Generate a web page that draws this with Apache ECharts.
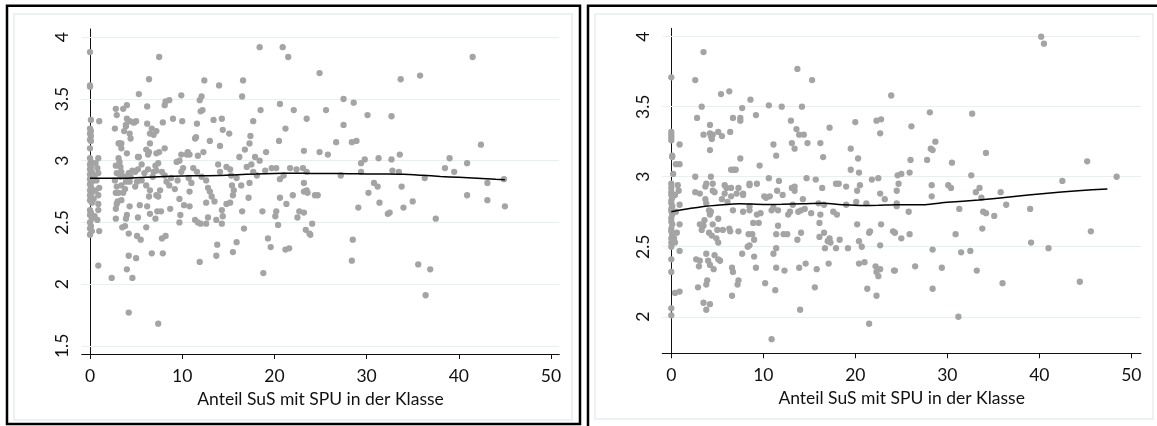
<!DOCTYPE html>
<html>
<head>
<meta charset="utf-8">
<script src="https://cdn.jsdelivr.net/npm/echarts@6/dist/echarts.min.js"></script>
<style>
  html, body { margin: 0; padding: 0; background: #fff; }
  #chart { width: 1157px; height: 426px; }
</style>
</head>
<body>
<div id="chart"></div>
<script>
var xTicks = [0, 10, 20, 30, 40, 50];
var leftYTicks = [1.5, 2, 2.5, 3, 3.5, 4];
var rightYTicks = [2, 2.5, 3, 3.5, 4];
var xTitle = 'Anteil SuS mit SPU in der Klasse';

// linkes Panel: [Anteil SuS mit SPU, Wert]
var leftPoints = [
  [0,3.88],[0,3.61],[0,3.60],[0.1,3.33],[0,3.26],[0.1,3.24],[0,3.22],[0.1,3.2],[0,3.17],[0.1,3.16],
  [0,3.1],[0,3.02],[0.1,2.99],[0,2.97],[0.1,2.95],[0,2.93],[0.2,2.91],[0,2.89],[0.1,2.87],[0,2.85],
  [0.2,2.83],[0,2.81],[0.1,2.79],[0,2.76],[0.2,2.74],[0,2.72],[0.1,2.7],[0,2.68],[0.2,2.66],[0,2.6],
  [0.1,2.58],[0,2.56],[0.2,2.53],[0,2.5],[0.1,2.47],[0,2.45],[0.2,2.43],[0,2.4],
  [1.0,3.32],[0.9,3.02],[0.6,2.98],[0.8,2.94],[0.9,2.9],[0.5,2.88],[0.7,2.84],[1.0,2.78],[0.6,2.76],
  [0.9,2.72],[0.4,2.69],[0.9,2.65],[0.9,2.6],[0.5,2.55],[0.8,2.52],[1.0,2.43],[0.9,2.15],
  [2.8,3.42],[2.9,3.37],[3.6,3.42],[4.0,3.45],[2.7,3.26],[3.9,3.29],[4.3,3.32],[4.7,3.31],[3.2,3.14],
  [3.4,3.1],[3.1,3.14],[3.4,3.14],[4.0,3.06],[4.3,3.22],[4.4,3.18],[3.7,3.24],[3.9,3.28],[4.0,3.34],
  [4.8,3.31],[5.0,3.32],[5.2,3.03],[5.3,3.03],
  [3.1,3.02],[3.2,2.99],[3.3,2.95],[3.4,2.91],[3.3,2.87],[3.8,2.87],[3.9,2.83],[3.4,2.8],[3.8,2.77],
  [3.6,2.74],[4.2,2.9],[4.4,2.87],[4.6,2.92],[4.9,2.91],[5.2,2.93],[4.3,2.83],[4.9,2.79],[5.1,2.83],
  [5.6,2.84],[6.1,2.8],[6.5,2.76],[2.8,2.96],[2.9,2.9],[2.7,2.84],[2.9,2.79],[2.8,2.74],
  [2.35,2.05],[2.9,2.65],[2.8,2.53],[3.1,2.74],[3.4,2.68],[3.5,2.46],[3.8,2.47],[4.0,2.56],[3.9,2.53],
  [4.3,2.63],[4.2,2.41],[4.2,2.23],[4.0,2.12],[4.6,2.05],[5.0,2.21],[4.2,1.77],[5.2,2.54],[5.4,2.64],
  [5.1,2.39],[5.5,2.36],[2.8,2.61],[3.0,2.67],
  [5.3,3.54],[6.2,3.44],[6.4,3.66],[6.2,3.30],[6.5,3.22],[7.2,3.24],[6.7,3.26],[7.5,3.84],[8.1,3.45],
  [8.6,3.49],[7.9,3.31],[9.0,3.34],[10.0,3.32],[9.9,3.53],[8.2,3.48],[6.9,3.21],[6.5,3.14],
  [6.1,3.09],[6.4,3.07],[6.3,3.05],[7.2,3.06],[7.5,3.07],[8.1,3.1],
  [6.9,2.91],[7.1,2.96],[7.4,2.98],[7.2,2.92],[7.8,2.91],[8.1,2.88],[8.3,2.83],[8.6,2.8],[8.8,2.86],
  [9.4,2.99],[9.7,3.0],[9.9,2.91],[10.1,2.94],[6.8,2.87],[5.9,2.9],[5.6,2.97],[6.3,2.93],[7.6,2.76],
  [9.2,2.77],[9.5,2.84],
  [6.1,2.46],[6.2,2.63],[6.5,2.57],[6.7,2.25],[7.1,2.53],[7.3,2.59],[7.7,2.59],[7.8,2.37],[8.2,2.39],
  [7.9,2.25],[7.4,1.68],[6.4,2.71],[7.2,2.72],[7.4,2.71],[8.7,2.61],[9.7,2.5],[9.8,2.56],[9.7,2.69],
  [10.5,3.05],[10.6,3.07],[10.8,3.05],[9.9,3.05],[11.2,2.94],[11.6,2.91],[11.7,3.04],[12.1,2.87],
  [12.6,2.84],[12.8,2.78],[13,2.75],[13.9,2.97],[14.1,2.91],[14.8,2.95],[10.7,2.86],[11.0,2.82],
  [12.1,3.52],[12.4,3.65],[12.0,3.40],[11.6,3.30],[11.4,3.18],[13.0,3.16],[13.4,3.33],[14.3,3.34],
  [14.4,3.25],[15.1,3.22],[14.1,3.12],[14.0,3.61],[11.5,3.19],[12.3,3.07],[12.2,3.41],[11.9,3.49],
  [10.2,2.64],[10.8,2.63],[10.8,2.75],[11.4,2.52],[11.7,2.5],[12.0,2.49],[11.9,2.18],[12.6,2.66],
  [12.6,2.49],[12.8,2.54],[13.2,2.71],[13.5,2.67],[13.7,2.52],[14.3,2.49],[14.3,2.6],[14.4,2.55],
  [14.8,2.65],[13.7,2.23],[13.8,2.32],
  [15.2,2.93],[15.3,2.88],[15.4,2.8],[15.9,2.86],[16.4,2.8],[17.0,2.95],[17.5,2.97],[17.7,2.91],
  [18.4,3.0],[19,2.92],[19.7,2.94],[17.3,2.82],[18.1,2.88],
  [16.6,3.65],[16.5,3.52],[17.7,3.32],[17.4,3.2],[17.3,3.14],[16.8,3.09],[18.5,3.41],[18.4,3.92],
  [19.1,3.07],[16.2,3.03],[17.9,3.03],
  [15.2,2.66],[15.5,2.72],[15.6,2.76],[15.5,2.26],[15.9,2.34],[16.5,2.59],[16.7,2.45],[17.2,2.7],
  [18.7,2.59],[18.8,2.09],[19.3,2.37],[19.6,2.3],
  [20.6,2.85],[20.2,2.94],[21.7,2.94],[22.4,2.93],[23.1,2.94],[23.5,2.91],[23.2,2.82],[23.5,2.76],
  [24.9,3.07],[21.0,2.88],
  [20.9,3.92],[21.5,3.84],[20.6,3.46],[21.2,3.26],[22.1,3.41],[23.5,3.34],[20.5,3.16],[23.2,3.08],
  [24.9,3.71],[25.6,3.41],[25.8,3.05],
  [20.2,2.59],[20.1,2.55],[20.4,2.48],[20.6,2.7],[21.3,2.65],[21.2,2.28],[21.6,2.29],[22.0,2.72],
  [22.5,2.54],[22.7,2.59],[23.2,2.58],[23.4,2.44],[23.8,2.41],[24.1,2.49],[23.2,2.75],[23.6,2.74],
  [24.4,2.72],[24.7,2.72],[23.9,2.4],
  [27.5,3.50],[28.6,3.47],[30.1,3.37],[32.7,3.36],[27.5,3.29],[26.7,3.15],[28.4,3.15],[28.9,3.16],
  [33.7,3.66],[35.8,3.69],[41.5,3.84],[42.4,3.13],[29.4,2.98],[29.8,3.01],[29.4,2.91],[27.2,2.88],
  [31.3,3.02],[32.7,3.01],[33.6,3.05],[32.8,2.92],[33.5,2.91],[36.3,2.86],[38.5,2.94],[39.0,3.02],
  [39.5,2.91],[40.9,2.98],[43.1,2.82],[44.9,2.85],[40.9,2.72],[43.1,2.68],[45.0,2.63],[30.8,2.82],
  [31.2,2.79],[33.8,2.79],[30.2,2.74],[31.4,2.66],[35.0,2.67],[34.0,2.62],[29.1,2.62],[32.3,2.57],
  [32.5,2.58],[37.5,2.53],[28.5,2.36],[28.4,2.19],[35.6,2.16],[36.9,2.12],[36.4,1.91]
];

var leftLowessX = [0, 2, 4, 6, 8, 10, 12, 14, 16, 18, 20, 22, 24, 26, 28, 30, 32, 34, 36, 38, 40, 42, 44, 45];
var leftLowessY = [2.857, 2.857, 2.858, 2.865, 2.872, 2.877, 2.878, 2.88, 2.887, 2.892, 2.897, 2.898,
                   2.897, 2.897, 2.895, 2.893, 2.892, 2.89, 2.882, 2.873, 2.865, 2.857, 2.849, 2.846];

// rechtes Panel
var rightPoints = [
  [0,3.71],[0,3.32],[0,3.30],[0,3.28],[0,3.26],[0.1,3.15],[0.1,3.14],[0.2,3.02],[0,2.95],[0,2.92],
  [0,2.89],[0,2.87],[0.1,2.85],[0,2.83],[0,2.81],[0.1,2.79],[0,2.77],[0,2.755],[0.1,2.73],[0,2.705],
  [0,2.68],[0.1,2.66],[0,2.63],[0,2.61],[0.1,2.585],[0,2.56],[0,2.53],[0,2.5],[0,2.41],[0,2.32],
  [0,2.06],[0,2.01],
  [0.9,3.23],[0.5,3.09],[0.9,3.09],[0.7,2.94],[0.8,2.9],[0.9,2.8],[0.9,2.66],[0.9,2.47],[0.6,2.6],
  [0.3,2.56],[0.4,2.53],[0.4,2.17],[0.9,2.18],[0.5,2.75],[0.4,2.87],
  [3.5,3.89],[2.6,3.69],[3.3,3.5],[2.8,3.42],[3.5,3.30],[4.2,3.37],[4.2,3.31],[4.3,3.29],[4.5,3.30],
  [4.4,3.27],[4.2,3.19],[5.1,3.32],[5.5,3.29],[5.4,3.59],
  [4.5,2.95],[4.5,2.9],[4.3,3.0],[3.8,2.95],[3.7,2.93],[2.6,3.0],[2.6,2.89],[3.1,2.88],[4.7,2.89],
  [3.7,2.84],[3.8,2.81],[4.1,2.76],[4.2,2.73],[4.3,2.75],[3.1,2.66],[3.3,2.62],[3.5,2.65],[3.6,2.69],
  [4.1,2.6],[4.4,2.58],[4.5,2.66],[5.0,2.62],[5.1,2.53],[4.9,2.56],[5.5,2.84],[5.1,2.7],
  [2.7,2.41],[3.1,2.4],[3.0,2.36],[3.8,2.45],[4.0,2.4],[4.2,2.37],[4.6,2.34],[4.7,2.44],[5.1,2.41],
  [5.3,2.4],[2.9,2.21],[3.8,2.23],[3.9,2.26],[3.5,2.1],[4.2,2.09],[3.8,2.05],
  [6.3,3.61],[6.4,3.32],[6.7,3.42],[7.5,3.42],[7.5,3.40],[7.7,3.49],[8.6,3.55],[9.2,3.44],[7.5,3.13],
  [6.5,3.05],[6.8,3.05],[7.0,3.05],[9.6,3.08],
  [9.3,2.95],[8.5,2.94],[8.5,2.95],[7.3,2.92],[6.5,2.92],[6.0,2.92],[5.8,2.94],[7.8,2.88],
  [5.6,2.62],[6.3,2.63],[6.4,2.61],[7.3,2.61],[6.7,2.76],[6.5,2.86],[7.1,2.88],[7.8,2.87],[7.8,2.75],
  [8.5,2.76],[8.5,2.79],[8.9,2.67],[9.5,2.67],[9.3,2.73],[9.7,2.74],[8.4,2.59],[8.8,2.59],[9.0,2.55],
  [8.3,2.5],[8.5,2.51],[7.7,2.45],[6.6,2.35],[6.7,2.32],[7.2,2.23],[7.3,2.26],[6.6,2.15],[9.0,2.43],
  [9.2,2.35],[6.1,2.82],[5.8,2.88],
  [10.6,3.51],[12.0,3.5],[11.1,3.23],[11.4,3.15],[13.0,3.40],[13.7,3.77],[13.6,3.34],[13.9,3.3],
  [14.4,3.3],[14.2,3.5],[13.1,3.24],[13.4,3.2],[14.8,3.24],
  [14.7,2.99],[13.4,2.93],[13.1,2.92],[13.4,2.9],[11.7,2.97],[10.6,2.99],[11.5,2.9],
  [10.1,2.86],[10.3,2.85],[10.7,2.86],[10.9,2.76],[11.1,2.78],[11.6,2.76],[12.7,2.73],[12.9,2.75],
  [13.2,2.8],[13.8,2.75],[14.1,2.76],[14.5,2.77],[15.2,2.74],[13.7,2.55],[14.1,2.6],[13.9,2.35],
  [14.6,2.38],[14.0,2.05],[10.2,2.24],[11.3,2.19],[10.9,1.84],[11.1,2.45],[11.4,2.49],[11.4,2.59],
  [11.6,2.65],[12.2,2.59],[12.6,2.59],[11.4,2.35],[12.3,2.33],[12.1,2.87],[14.3,2.84],
  [15.3,3.69],[16.2,3.24],[16.5,3.14],[17.2,3.35],[19.5,3.2],[20.0,3.39],[19.5,3.05],
  [17.9,2.95],[18.2,2.95],[19.0,2.93],[16.4,2.92],[15.7,2.98],
  [15.6,2.21],[15.8,2.34],[16.2,2.73],[16.1,2.67],[16.6,2.6],[16.1,2.57],[16.7,2.49],[17.0,2.54],
  [17.2,2.56],[17.3,2.53],[17.1,2.38],[18.0,2.73],[17.9,2.49],[18.3,2.55],[19.2,2.49],[16.0,2.81],
  [16.6,2.8],[19.0,2.8],[17.6,2.75],
  [20.3,3.13],[20.4,3.03],[22.3,3.40],[22.8,3.41],[22.7,3.31],[23.9,3.58],[22.5,2.99],[21.8,2.98],
  [20.2,2.9],[20.5,2.94],[24.6,3.01],
  [20.2,2.66],[20.4,2.54],[20.7,2.5],[20.4,2.38],[21.0,2.39],[21.3,2.2],[21.5,1.95],[21.5,2.6],
  [21.6,2.61],[22.2,2.36],[22.3,2.32],[22.5,2.29],[22.7,2.34],[22.3,2.15],[22.7,2.51],[22.8,2.66],
  [24.1,2.61],[24.2,2.33],[22.7,2.88],[24.5,2.79],[20.1,2.82],[21.2,2.81],[23.2,2.84],
  [28.1,3.46],[32.7,3.45],[26.1,3.36],[28.7,3.25],[28.2,3.2],[28.4,3.19],[34.2,3.17],[26.0,3.12],
  [27.8,3.12],[30.5,3.1],[25.0,3.02],[25.9,3.03],[32.6,3.01],[40.2,4.0],[40.5,3.95],[45.2,3.11],
  [48.4,3.0],[42.5,2.97],[24.7,2.95],[24.5,2.9],[28.3,2.94],[28.3,2.86],[30.1,2.94],[30.4,2.92],
  [33.1,2.89],[33.5,2.92],[33.7,2.85],[35.8,2.89],[24.5,2.81],[25.8,2.75],[31.3,2.77],[33.9,2.75],
  [34.2,2.74],[35.1,2.72],[36.4,2.8],[39.0,2.77],[24.3,2.6],[25.0,2.56],[25.9,2.59],[30.9,2.59],
  [33.8,2.63],[39.1,2.53],[41.0,2.49],[45.6,2.61],[28.4,2.48],[31.5,2.46],[32.5,2.47],[24.3,2.33],
  [26.5,2.36],[29.4,2.35],[33.2,2.33],[28.4,2.2],[36.0,2.24],[44.4,2.25],[31.2,2.0]
];

var rightLowessX = [0, 1, 2, 3.5, 5, 7.5, 10, 12, 14.3, 16.5, 18.7, 20.8, 22.5, 24.4, 26, 27.6, 30, 33.4, 37, 40.6, 44.2, 47.4];
var rightLowessY = [2.75, 2.762, 2.773, 2.788, 2.797, 2.807, 2.802, 2.803, 2.807, 2.81, 2.80, 2.795,
                    2.796, 2.80, 2.799, 2.80, 2.817, 2.833, 2.857, 2.881, 2.9, 2.913];

function pairs(xs, ys) {
  return xs.map(function (x, i) { return [x, ys[i]]; });
}

var font = 'Lato, "Noto Sans", sans-serif';
var ink = '#111';
var gridColor = '#e7eff1';
var fs = 17.5;

function makeX(idx, min, max) {
  return {
    type: 'value', gridIndex: idx, min: min, max: max,
    name: xTitle, nameLocation: 'middle', nameGap: 28,
    nameTextStyle: { color: ink, fontSize: fs, fontFamily: font },
    axisLine: { onZero: false, lineStyle: { color: ink, width: 1 } },
    axisTick: { length: 5, customValues: xTicks, lineStyle: { color: ink } },
    axisLabel: { customValues: xTicks, margin: 13, color: ink, fontSize: fs, fontFamily: font,
                 formatter: function (v) { return String(v); } },
    splitLine: { show: false }
  };
}

function makeY(idx, min, max, ticks) {
  return {
    type: 'value', gridIndex: idx, min: min, max: max,
    axisLine: { show: true, lineStyle: { color: ink, width: 1 } },
    axisTick: { show: true, length: 5, customValues: ticks, lineStyle: { color: ink } },
    axisLabel: { customValues: ticks, rotate: 90, margin: 10, color: ink, fontSize: fs, fontFamily: font,
                 formatter: function (v) { return String(v); } },
    splitLine: { show: false }
  };
}

function scatter(idx, data, ticks) {
  return {
    type: 'scatter', xAxisIndex: idx, yAxisIndex: idx, data: data,
    symbolSize: 6.3, itemStyle: { color: '#a4a4a4', opacity: 1 }, z: 2, silent: true,
    markLine: {
      silent: true, symbol: 'none', z: 1, label: { show: false },
      lineStyle: { color: gridColor, width: 1.2, type: 'solid' },
      data: ticks.map(function (v) { return { yAxis: v }; })
    }
  };
}

function lowess(idx, data) {
  return {
    type: 'line', xAxisIndex: idx, yAxisIndex: idx, data: data,
    showSymbol: false, smooth: 0.2, z: 3, silent: true,
    lineStyle: { color: '#000', width: 1.5 }
  };
}

var chart = echarts.init(document.getElementById('chart'), null, { renderer: 'canvas' });
chart.setOption({
  animation: false,
  backgroundColor: '#fff',
  grid: [
    { left: 81.7, top: 29, width: 477.6, height: 325 },
    { left: 662.3, top: 28.3, width: 478.7, height: 325 }
  ],
  xAxis: [makeX(0, -0.9, 50.9), makeX(1, -0.98, 51.05)],
  yAxis: [makeY(0, 1.434, 4.067, leftYTicks), makeY(1, 1.739, 4.06, rightYTicks)],
  series: [
    scatter(0, leftPoints, leftYTicks),
    lowess(0, pairs(leftLowessX, leftLowessY)),
    scatter(1, rightPoints, rightYTicks),
    lowess(1, pairs(rightLowessX, rightLowessY))
  ],
  graphic: [
    { type: 'rect', silent: true, z: 0, shape: { x: 14, y: 14, width: 558, height: 406 },
      style: { fill: 'none', stroke: '#e6eef1', lineWidth: 1.5 } },
    { type: 'rect', silent: true, z: 0, shape: { x: 595, y: 14, width: 558, height: 405 },
      style: { fill: 'none', stroke: '#e6eef1', lineWidth: 1.5 } },
    { type: 'rect', silent: true, z: 100, shape: { x: 7, y: 5.8, width: 573, height: 418.2 },
      style: { fill: 'none', stroke: '#000', lineWidth: 2.5 } },
    { type: 'rect', silent: true, z: 100, shape: { x: 588, y: 5.8, width: 600, height: 500 },
      style: { fill: 'none', stroke: '#000', lineWidth: 2.5 } }
  ]
});
</script>
</body>
</html>
